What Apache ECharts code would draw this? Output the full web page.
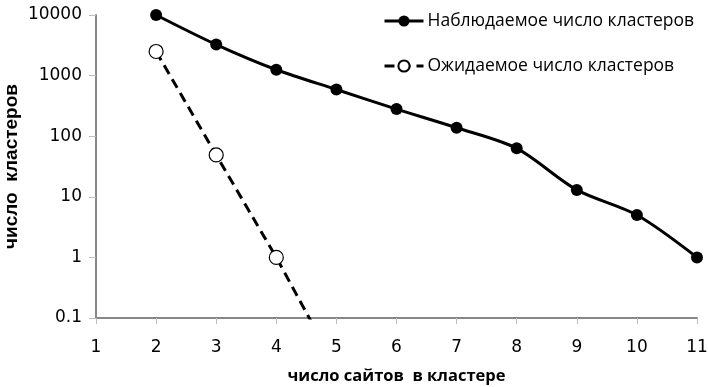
<!DOCTYPE html>
<html>
<head>
<meta charset="utf-8">
<script src="https://cdn.jsdelivr.net/npm/echarts@6/dist/echarts.min.js"></script>
<style>
  html, body { margin: 0; padding: 0; background: #ffffff; }
  #chart { width: 708px; height: 387px; }
</style>
</head>
<body>
<div id="chart"></div>
<script>
// Number of sites in a cluster (x) for each series
const observedX = [2, 3, 4, 5, 6, 7, 8, 9, 10, 11];
const observedCounts = [10000, 3250, 1250, 590, 280, 138, 63, 13, 5, 1];

const expectedX = [2, 3, 4, 5];
const expectedCounts = [2500, 49, 1, 0.015];

const seriesNames = ['Наблюдаемое число кластеров', 'Ожидаемое число кластеров'];
const yTickLabels = ['0.1', '1', '10', '100', '1000', '10000'];
const xTitle = 'число сайтов  в кластере';
const yTitle = 'число  кластеров';

const axisGrey = '#878787';
const tickGrey = '#bdbdbd';
const textFont = '"Open Sans", "Noto Sans", sans-serif';
const digitFont = '"DejaVu Sans", "Open Sans", sans-serif';

const chart = echarts.init(document.getElementById('chart'), null, { renderer: 'canvas' });

const option = {
  animation: false,
  backgroundColor: '#ffffff',
  grid: { left: 96, right: 11, top: 15, bottom: 69, containLabel: false, outerBoundsMode: 'none' },
  legend: {
    orient: 'vertical',
    left: 383,
    top: 12,
    padding: 0,
    itemWidth: 39,
    itemHeight: 14,
    itemGap: 27,
    lineStyle: { width: 3 },
    textStyle: { fontFamily: textFont, fontSize: 17.5, color: '#000000', padding: [0, 0, 0, -1] },
    data: seriesNames
  },
  xAxis: {
    type: 'value',
    min: 1,
    max: 11,
    interval: 1,
    name: xTitle,
    nameLocation: 'middle',
    nameGap: 50,
    nameMoveOverlap: false,
    nameTextStyle: { fontFamily: textFont, fontWeight: 'bold', fontSize: 16.5, color: '#000000' },
    axisLine: { show: true, lineStyle: { color: axisGrey, width: 2 } },
    axisTick: { show: true, inside: false, length: 6, lineStyle: { color: tickGrey, width: 1 } },
    axisLabel: { fontFamily: digitFont, fontSize: 17, color: '#000000', margin: 21 },
    splitLine: { show: false }
  },
  yAxis: {
    type: 'log',
    logBase: 10,
    min: 0.1,
    max: 10000,
    name: yTitle,
    nameLocation: 'middle',
    nameRotate: 90,
    nameGap: 75,
    nameMoveOverlap: false,
    nameTextStyle: { fontFamily: '"Liberation Sans", Arial, sans-serif', fontWeight: 'bold', fontSize: 19, color: '#000000' },
    axisLine: { show: true, lineStyle: { color: axisGrey, width: 2 } },
    axisTick: { show: true, inside: false, length: 7, lineStyle: { color: tickGrey, width: 1 } },
    axisLabel: {
      fontFamily: digitFont, fontSize: 17, color: '#000000', margin: 14,
      formatter: function (value, index) { return yTickLabels[index]; }
    },
    splitLine: { show: false }
  },
  series: [
    {
      name: seriesNames[0],
      type: 'line',
      data: observedX.map((x, i) => [x, observedCounts[i]]),
      smooth: 0.3,
      symbol: 'circle',
      symbolSize: 12,
      lineStyle: { color: '#000000', width: 3 },
      itemStyle: { color: '#000000', borderColor: '#000000', borderWidth: 0 },
      clip: true
    },
    {
      name: seriesNames[1],
      type: 'line',
      data: expectedX.map((x, i) => [x, expectedCounts[i]]),
      symbol: 'circle',
      symbolSize: 14,
      lineStyle: { color: '#000000', width: 3, type: [10, 6] },
      itemStyle: { color: '#ffffff', borderColor: '#000000', borderWidth: 1.2 },
      clip: true
    }
  ]
};

chart.setOption(option);
</script>
</body>
</html>
